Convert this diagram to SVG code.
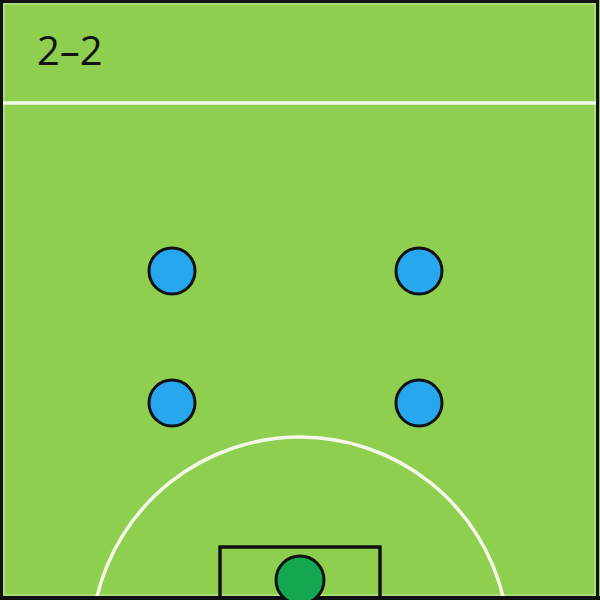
<svg xmlns="http://www.w3.org/2000/svg" width="600" height="600" viewBox="0 0 600 600">
  <style>
    .line { fill: none; stroke: #f4f8e8; stroke-width: 3.5; }
    .player { fill: #27a7ee; stroke: #111; stroke-width: 3; }
    .keeper { fill: #13a850; stroke: #111; stroke-width: 3; }
    .label { font-family: "Open Sans", "Liberation Sans", sans-serif; font-size: 40px; font-weight: 500; fill: #111; }
  </style>
  <g id="field">
    <rect x="0" y="0" width="600" height="600" fill="#8ecf4f"/>
    <rect x="4" y="4" width="591" height="591" fill="none" stroke="#c9eaa0" stroke-width="1"/>
    <line class="line" x1="2" y1="103" x2="598" y2="103"/>
    <path class="line" d="M 96.6 598 A 209 209 0 0 1 503.4 598"/>
    <rect x="220" y="547" width="160" height="53" fill="none" stroke="#111" stroke-width="3.5"/>
    <rect x="1.5" y="1.5" width="596" height="596" fill="none" stroke="#111" stroke-width="3"/>
    <line x1="0" y1="598" x2="600" y2="598" stroke="#111" stroke-width="4"/>
  </g>
  <g id="title"><text class="label" x="37" y="65">2–2</text></g>
  <g id="player-1"><circle class="player" cx="172" cy="271" r="23"/></g>
  <g id="player-2"><circle class="player" cx="419" cy="271" r="23"/></g>
  <g id="player-3"><circle class="player" cx="172" cy="403" r="23"/></g>
  <g id="player-4"><circle class="player" cx="419" cy="403" r="23"/></g>
  <g id="goalkeeper"><circle class="keeper" cx="300" cy="580" r="24"/></g>
  <g id="connectors"></g>
</svg>
